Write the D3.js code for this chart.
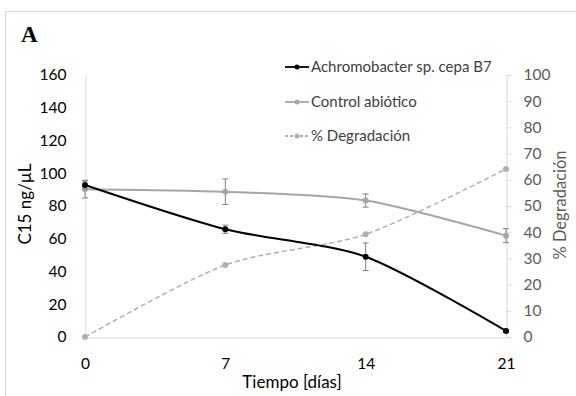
<!DOCTYPE html>
<html>
<head>
<meta charset="utf-8">
<script src="https://cdn.jsdelivr.net/npm/d3@7/dist/d3.min.js"></script>
<style>
  html, body { margin: 0; padding: 0; background: #fff; }
  svg { display: block; }
</style>
</head>
<body>
<svg id="chart" width="576" height="396"></svg>
<script>
// Days of sampling
const days = [0, 7, 14, 21];
// C15 concentration (ng/µL) with Achromobacter sp. cepa B7
const bacteria = [92.8, 65.8, 49, 3.7];
const bacteriaErr = [2.5, 2.5, 8.4, 0.8];
// Abiotic control (ng/µL)
const control = [90.3, 88.7, 83.3, 61.9];
const controlErr = [5.4, 7.8, 4, 4.3];
// Degradation percentage (right axis)
const degradation = [0, 27.5, 39.2, 64.1];
// Axis ticks
const leftTicks = [0, 20, 40, 60, 80, 100, 120, 140, 160];
const rightTicks = [0, 10, 20, 30, 40, 50, 60, 70, 80, 90, 100];

const FONT = "Lato, 'Open Sans', sans-serif";
const svg = d3.select("#chart").style("font-family", FONT);
const m = { left: 85, right: 506, top: 75, bottom: 337 };

// frame around the panel
svg.append("path")
  .attr("d", "M5.5,396 L5.5,11.5 L576,11.5")
  .attr("fill", "none").attr("stroke", "#d9d9d9").attr("stroke-width", 1);

svg.append("text").text("A")
  .attr("x", 21).attr("y", 42)
  .style("font-family", "'Liberation Serif', 'DejaVu Serif', serif")
  .style("font-weight", "bold").style("font-size", "23px").attr("fill", "#000");

const x = d3.scaleLinear().domain([0, 21]).range([m.left, m.right]);
const yL = d3.scaleLinear().domain([0, 160]).range([m.bottom, m.top]);
const yR = d3.scaleLinear().domain([0, 100]).range([m.bottom, m.top]);

const axisColor = "#d9d9d9";
const fs = "15.5px";

// left axis
const gL = svg.append("g").attr("transform", `translate(${m.left + 0.5},0)`)
  .call(d3.axisLeft(yL).tickValues(leftTicks).tickSize(0).tickPadding(19));
gL.select(".domain").attr("stroke", axisColor);
gL.selectAll("text").style("font-size", fs).style("font-family", FONT).attr("fill", "#000");

// right axis
const gR = svg.append("g").attr("transform", `translate(${m.right + 0.5},0)`)
  .call(d3.axisRight(yR).tickValues(rightTicks).tickSize(5).tickPadding(12).tickSizeOuter(0));
gR.select(".domain").attr("stroke", axisColor);
gR.selectAll("line").attr("stroke", axisColor);
gR.selectAll("text").style("font-size", fs).style("font-family", FONT).attr("fill", "#605a55");

// bottom axis
const gB = svg.append("g").attr("transform", `translate(0,${m.bottom + 0.5})`)
  .call(d3.axisBottom(x).tickValues(days).tickSize(0).tickPadding(20).tickSizeOuter(0));
gB.select(".domain").attr("stroke", axisColor);
gB.selectAll("text").style("font-size", fs).style("font-family", FONT).attr("fill", "#000");

// axis titles
svg.append("text").text("Tiempo [días]")
  .attr("x", 292).attr("y", 388).attr("text-anchor", "middle")
  .style("font-size", "17px").attr("fill", "#000");
svg.append("text").text("C15  ng/µL")
  .attr("transform", "translate(31,204) rotate(-90)").attr("text-anchor", "middle")
  .style("font-size", "17px").attr("fill", "#000");
svg.append("text").text("% Degradación")
  .attr("transform", "translate(566,205) rotate(-90)").attr("text-anchor", "middle")
  .style("font-size", "16.5px").attr("fill", "#605a55");

const smooth = d3.curveCardinal.tension(0.2);

function series(vals, err, yScale, color, dash, width) {
  const pts = days.map((d, i) => [x(d), yScale(vals[i])]);
  if (err) {
    const eb = svg.append("g").attr("stroke", "#7f7f7f").attr("stroke-width", 1);
    days.forEach((d, i) => {
      const cx = x(d), y1 = yScale(vals[i] - err[i]), y2 = yScale(vals[i] + err[i]);
      eb.append("line").attr("x1", cx).attr("x2", cx).attr("y1", y1).attr("y2", y2);
      eb.append("line").attr("x1", cx - 3).attr("x2", cx + 3).attr("y1", y1).attr("y2", y1);
      eb.append("line").attr("x1", cx - 3).attr("x2", cx + 3).attr("y1", y2).attr("y2", y2);
    });
  }
  svg.append("path").datum(pts)
    .attr("d", d3.line().curve(smooth))
    .attr("fill", "none").attr("stroke", color).attr("stroke-width", width)
    .attr("stroke-dasharray", dash || null);
  svg.append("g").selectAll("circle").data(pts).join("circle")
    .attr("cx", p => p[0]).attr("cy", p => p[1]).attr("r", 3).attr("fill", color);
}

series(degradation, null, yR, "#b0b0b0", "5,3", 1.5);
series(control, controlErr, yL, "#a6a6a6", null, 2);
series(bacteria, bacteriaErr, yL, "#000", null, 2);

// legend
const legend = [
  { label: "Achromobacter sp. cepa B7", color: "#000", dash: null, y: 67 },
  { label: "Control abiótico", color: "#a6a6a6", dash: null, y: 102 },
  { label: "% Degradación", color: "#b0b0b0", dash: "3,2", y: 136 }
];
legend.forEach(l => {
  svg.append("line").attr("x1", 285).attr("x2", 309).attr("y1", l.y).attr("y2", l.y)
    .attr("stroke", l.color).attr("stroke-width", 1.8).attr("stroke-dasharray", l.dash);
  svg.append("circle").attr("cx", 297).attr("cy", l.y).attr("r", 2.5).attr("fill", l.color);
  svg.append("text").text(l.label).attr("x", 311).attr("y", l.y + 5)
    .style("font-size", "15px").attr("fill", "#404040");
});
</script>
</body>
</html>
